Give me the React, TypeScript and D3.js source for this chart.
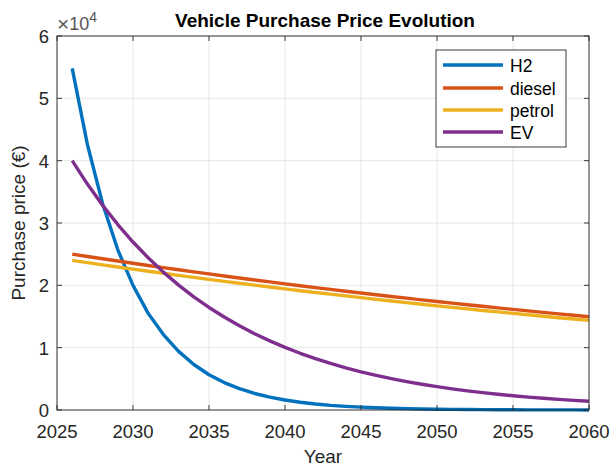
import React from "react";
import * as d3 from "d3";

const years: number[] = d3.range(2026, 2061);
const h2: number[] = [54800, 42600, 33100, 25700, 20000, 15500, 12100, 9400, 7300, 5650, 4400, 3420, 2650, 2060, 1600, 1250, 970, 750, 585, 455, 355, 275, 213, 166, 129, 100, 78, 61, 47, 37, 28, 22, 17, 13, 10];
const diesel: number[] = [25000, 24630, 24260, 23900, 23540, 23190, 22840, 22500, 22160, 21830, 21500, 21180, 20860, 20550, 20240, 19940, 19640, 19350, 19060, 18770, 18490, 18210, 17940, 17670, 17410, 17150, 16890, 16640, 16390, 16140, 15900, 15660, 15430, 15200, 14970];
const petrol: number[] = [24000, 23640, 23290, 22940, 22600, 22260, 21930, 21600, 21280, 20960, 20640, 20330, 20030, 19730, 19430, 19140, 18860, 18580, 18300, 18020, 17750, 17490, 17220, 16970, 16710, 16460, 16220, 15970, 15740, 15500, 15270, 15040, 14810, 14590, 14370];
const ev: number[] = [40000, 36240, 32830, 29750, 26950, 24420, 22120, 20040, 18160, 16450, 14910, 13510, 12240, 11090, 10040, 9100, 8250, 7470, 6770, 6130, 5560, 5030, 4560, 4130, 3750, 3390, 3070, 2790, 2520, 2290, 2070, 1880, 1700, 1540, 1400];
const seriesNames: string[] = ["H2", "diesel", "petrol", "EV"];
const seriesColors: string[] = ["#0072BD", "#D95319", "#EDB120", "#7E2F8E"];
const xTicks: number[] = [2025, 2030, 2035, 2040, 2045, 2050, 2055, 2060];
const yTicks: number[] = [0, 1, 2, 3, 4, 5, 6];

const W = 612, H = 468;
const L = 57, R = 589, T = 36, B = 410;
const FONT = "'Liberation Sans', Arial, Helvetica, sans-serif";
const AX = "#262626";

export default function App() {
  const x = d3.scaleLinear().domain([2025, 2060]).range([L, R]);
  const y = d3.scaleLinear().domain([0, 60000]).range([B, T]);
  const allSeries = [h2, diesel, petrol, ev];
  const line = d3.line<number>().x((_, i) => x(years[i])).y((d) => y(d));
  const tickLen = 5;
  const legX = 436, legY = 50, legW = 130, legH = 97;
  const rowY = [65, 88, 110, 132];
  return (
    <svg width={W} height={H} style={{ position: "absolute", left: 0, top: 0, background: "#fff" }} fontFamily={FONT}>
      <rect x={0} y={0} width={W} height={H} fill="#fff" />
      {xTicks.map((t) => (
        <line key={"gx" + t} x1={x(t)} x2={x(t)} y1={T} y2={B} stroke="#dfdfdf" strokeWidth={0.8} />
      ))}
      {yTicks.map((t) => (
        <line key={"gy" + t} x1={L} x2={R} y1={y(t * 10000)} y2={y(t * 10000)} stroke="#dfdfdf" strokeWidth={0.8} />
      ))}
      <defs>
        <clipPath id="clip"><rect x={L} y={T - 2} width={R - L + 2} height={B - T + 4} /></clipPath>
      </defs>
      <g clipPath="url(#clip)">
        {allSeries.map((s, i) => (
          <path key={seriesNames[i]} d={line(s) || ""} fill="none" stroke={seriesColors[i]} strokeWidth={3.4} strokeLinejoin="round" />
        ))}
      </g>
      <rect x={L} y={T} width={R - L} height={B - T} fill="none" stroke={AX} strokeWidth={0.9} />
      {xTicks.map((t) => (
        <g key={"tx" + t}>
          <line x1={x(t)} x2={x(t)} y1={B} y2={B - tickLen} stroke={AX} strokeWidth={0.9} />
          <line x1={x(t)} x2={x(t)} y1={T} y2={T + tickLen} stroke={AX} strokeWidth={0.9} />
          <text x={x(t)} y={438} textAnchor="middle" fontSize={18.5} fill={AX}>{t}</text>
        </g>
      ))}
      {yTicks.map((t) => (
        <g key={"ty" + t}>
          <line x1={L} x2={L + tickLen} y1={y(t * 10000)} y2={y(t * 10000)} stroke={AX} strokeWidth={0.9} />
          <line x1={R} x2={R - tickLen} y1={y(t * 10000)} y2={y(t * 10000)} stroke={AX} strokeWidth={0.9} />
          <text x={L - 8} y={y(t * 10000) + 7} textAnchor="end" fontSize={18.5} fill={AX}>{t}</text>
        </g>
      ))}
      <text x={L} y={30} fontSize={18} fill="#555">
        <tspan fontSize={21} dy={1}>×</tspan><tspan dy={-1}>10</tspan><tspan dy={-8} fontSize={14}>4</tspan>
      </text>
      <text x={(L + R) / 2 + 2} y={27} textAnchor="middle" fontSize={19} fontWeight="bold" fill="#000">Vehicle Purchase Price Evolution</text>
      <text x={(L + R) / 2} y={463} textAnchor="middle" fontSize={19} fill={AX}>Year</text>
      <text transform={`translate(25,${(T + B) / 2}) rotate(-90)`} textAnchor="middle" fontSize={19} fill={AX}>Purchase price (€)</text>
      <rect x={legX} y={legY} width={legW} height={legH} fill="#fff" stroke={AX} strokeWidth={0.9} />
      {seriesNames.map((n, i) => (
        <g key={"leg" + n}>
          <line x1={443} x2={503} y1={rowY[i]} y2={rowY[i]} stroke={seriesColors[i]} strokeWidth={3.4} />
          <text x={510} y={rowY[i] + 6.5} fontSize={17.5} fill="#000">{n}</text>
        </g>
      ))}
    </svg>
  );
}
